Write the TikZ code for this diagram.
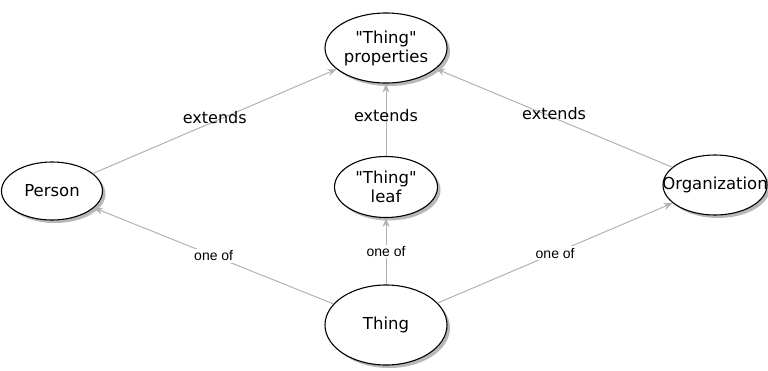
\documentclass[tikz,border=0pt]{standalone}
\usepackage{fontspec}
\setmainfont[Ligatures=TeXOff]{DejaVu Sans}
\newfontfamily\labfont{Liberation Sans}
\usetikzlibrary{shapes.geometric,shadows,arrows.meta}
\begin{document}
\begin{tikzpicture}[x=1pt,y=-1pt,
  ent/.style={ellipse,draw=black,line width=1.1pt,fill=white,inner sep=0pt,
    align=center,font=\fontsize{16.5}{19}\selectfont,
    drop shadow={shadow xshift=3pt,shadow yshift=-3pt,fill=black!35,opacity=0.8}},
  conn/.style={draw=black!30,line width=1pt,-{Stealth[length=9pt,width=7pt,fill=black!30]}},
  ext/.style={font=\fontsize{16}{18}\selectfont,text=black},
  oneof/.style={font=\labfont\fontsize{14}{16}\selectfont,fill=white,inner sep=1.5pt}]
\useasboundingbox (0,0) rectangle (768,370);
\node[ent,minimum width=122pt,minimum height=70pt] (props) at (386,48) {"Thing"\\properties};
\node[ent,minimum width=101pt,minimum height=58pt] (person) at (52,191) {Person};
\node[ent,minimum width=104pt,minimum height=60pt] (org) at (715,185) {\makebox[0pt]{Organization}};
\node[ent,minimum width=103pt,minimum height=61pt] (leaf) at (386,187) {"Thing"\\leaf};
\node[ent,minimum width=122pt,minimum height=80pt] (thing) at (386,325) {Thing};
\draw[conn] (person) -- node[ext,pos=0.5,yshift=4pt] (e1) {extends} (props);
\draw[conn] (leaf) -- node[ext,yshift=4pt] (e2) {extends} (props);
\draw[conn] (org) -- node[ext,pos=0.5,yshift=4pt] (e3) {extends} (props);
\draw[conn] (thing) -- node[oneof,pos=0.5] (o1) {one of} (person);
\draw[conn] (thing) -- node[oneof] (o2) {one of} (leaf);
\draw[conn] (thing) -- node[oneof,pos=0.5] (o3) {one of} (org);
\end{tikzpicture}
\end{document}
